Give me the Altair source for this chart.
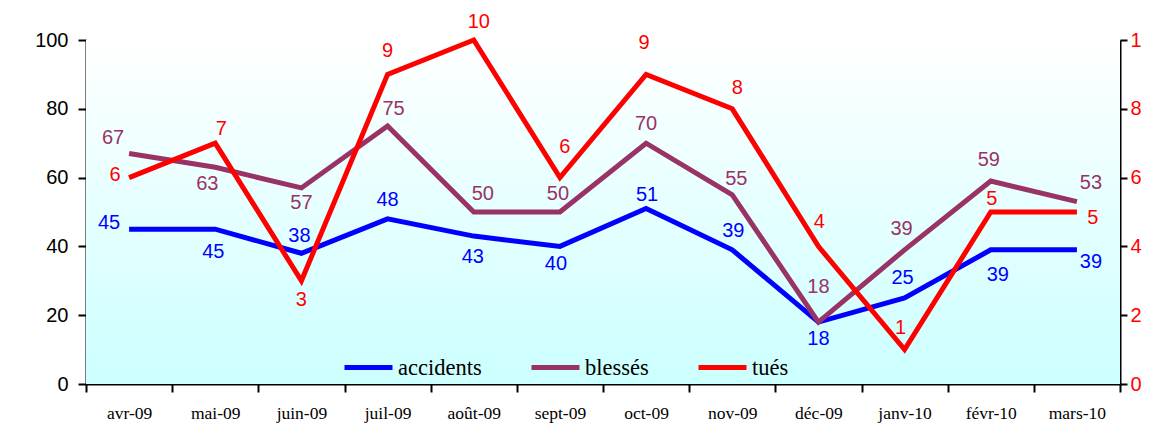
import altair as alt
import pandas as pd

months = ["avr-09", "mai-09", "juin-09", "juil-09", "août-09", "sept-09",
          "oct-09", "nov-09", "déc-09", "janv-10", "févr-10", "mars-10"]
accidents = [45, 45, 38, 48, 43, 40, 51, 39, 18, 25, 39, 39]
blesses = [67, 63, 57, 75, 50, 50, 70, 55, 18, 39, 59, 53]
tues = [6, 7, 3, 9, 10, 6, 9, 8, 4, 1, 5, 5]

# data-label placement (pixel offsets of each label from its point)
acc_dx = [-20, -2, -2, 0, -1, -4, 1, 1, 0, -2, 7, 14]
acc_dy = [-6, 23, -17, -19, 21, 18, -14, -19, 17, -20, 25, 12]
bl_dx = [-16, -8, 0, 6, 9, -2, 0, 4, 0, -3, -2, 14]
bl_dy = [-16, 17, 15, -17, -18, -18, -19, -16, -35, -21, -21, -19]
tu_dx = [-14, 6, 0, 0, 5, 5, -2, 5, 1, -4, 1, 16]
tu_dy = [-3, -14, 19, -23, -18, -31, -31, -21, -24, -22, -13, 6]

series = ["accidents", "blessés", "tués"]
colors = ["#0000FF", "#993366", "#FF0000"]

rows = []
for name, vals, dxs, dys, col in [
    ("accidents", accidents, acc_dx, acc_dy, colors[0]),
    ("blessés", blesses, bl_dx, bl_dy, colors[1]),
    ("tués", tues, tu_dx, tu_dy, colors[2]),
]:
    for m, v, dx, dy in zip(months, vals, dxs, dys):
        rows.append({"mois": m, "serie": name, "valeur": v, "dx": dx, "dy": dy, "hex": col})
df = pd.DataFrame(rows)

W, H = 1034, 344
NUM_FONT = "Liberation Sans"
SERIF = "Liberation Serif"

base = alt.Chart(df)

x_enc = alt.X("mois:N", sort=months, title=None,
              scale=alt.Scale(paddingInner=0, paddingOuter=0),
              axis=alt.Axis(labelAngle=0, labelFont=SERIF, labelFontSize=17.5,
                            labelColor="black", domainColor="black", domainWidth=2,
                            tickColor="black", tickWidth=2, tickSize=8,
                            tickBand="extent", labelPadding=12))

color_enc = alt.Color("serie:N",
                      scale=alt.Scale(domain=series, range=colors),
                      legend=alt.Legend(orient="none", legendX=256, legendY=301,
                                        direction="horizontal", title=None,
                                        symbolType="stroke", symbolStrokeWidth=5,
                                        symbolSize=2304, labelFont=SERIF,
                                        labelFontSize=22.5, labelColor="black",
                                        labelOffset=3, columnPadding=39,
                                        labelLimit=300))

bg = alt.Chart(pd.DataFrame({"a": [0]})).mark_rect(
    color=alt.LinearGradient(
        gradient="linear",
        stops=[alt.GradientStop(color="#FFFFFF", offset=0),
               alt.GradientStop(color="#CCFFFF", offset=1)],
        x1=0, x2=0, y1=0, y2=1)
).encode(x=alt.value(0), x2=alt.value(W), y=alt.value(0), y2=alt.value(H))

left_y = alt.Y("valeur:Q", title=None,
               scale=alt.Scale(domain=[0, 100], nice=False, zero=True),
               axis=alt.Axis(orient="left", values=[0, 20, 40, 60, 80, 100], grid=False,
                             labelFont=NUM_FONT, labelFontSize=20, labelColor="black",
                             domainColor="black", domainWidth=2, tickColor="black",
                             tickWidth=2, tickSize=8, labelPadding=10))
right_y = alt.Y("valeur:Q", title=None,
                scale=alt.Scale(domain=[0, 10], nice=False, zero=True),
                axis=alt.Axis(orient="right", values=[0, 2, 4, 6, 8, 10], grid=False,
                              labelFont=NUM_FONT, labelFontSize=20, labelColor="#FF0000",
                              domainColor="black", domainWidth=2, tickColor="black",
                              tickWidth=2, tickSize=7, labelPadding=3))

left_data = base.transform_filter(alt.FieldOneOfPredicate(field="serie", oneOf=["accidents", "blessés"]))
right_data = base.transform_filter(alt.FieldEqualPredicate(field="serie", equal="tués"))

text_props = dict(font=NUM_FONT, fontSize=20, baseline="middle", align="center",
                  dx={"expr": "datum.dx"}, dy={"expr": "datum.dy"})

left_lines = left_data.mark_line(strokeWidth=5).encode(
    x=x_enc, y=left_y, color=color_enc, detail="serie:N")
left_text = left_data.mark_text(**text_props).encode(
    x=x_enc, y=left_y, text="valeur:Q",
    color=alt.Color("hex:N", scale=None))

right_line = right_data.mark_line(strokeWidth=5).encode(
    x=x_enc, y=right_y, color=color_enc)
right_text = right_data.mark_text(**text_props).encode(
    x=x_enc, y=right_y, text="valeur:Q",
    color=alt.Color("hex:N", scale=None))

left = alt.layer(bg, left_lines, left_text)
right = alt.layer(right_line, right_text)

chart = alt.layer(left, right).resolve_scale(y="independent").properties(
    width=W, height=H,
    autosize=alt.AutoSizeParams(type="none"),
    padding={"left": 78, "top": 32, "right": 22, "bottom": 39},
    background="white"
).configure_view(stroke=None)

chart.save("out.html", embed_options={"renderer": "svg", "actions": False})
